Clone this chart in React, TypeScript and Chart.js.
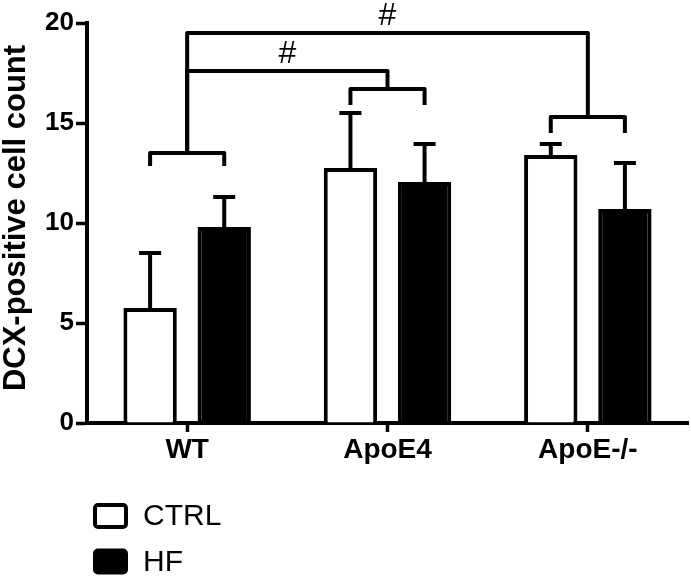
import React, { useEffect, useRef } from "react";
import { Chart, registerables } from "chart.js";

Chart.register(...registerables);

const categories = ["WT", "ApoE4", "ApoE-/-"];
const seriesNames = ["CTRL", "HF"];
const ctrlMeans = [5.75, 12.75, 13.4];
const ctrlSD = [2.75, 2.75, 0.55];
const hfMeans = [9.8, 12.05, 10.7];
const hfSD = [1.5, 1.9, 2.3];
const yMin = 0;
const yMax = 20;
const yStep = 5;
const yTitle = "DCX-positive cell count";

// pairwise CTRL vs HF brackets per group (data units)
const pairBracketY = [13.5, 16.7, 15.3];
const pairLegY = [12.85, 15.9, 14.5];
// between-group comparisons
const compFrom = [0, 0];
const compTo = [1, 2];
const compY = [17.6, 19.5];
const compLabel = ["#", "#"];
const compLabelY = [18.45, 20.35];

const FONT = "'Liberation Sans', Arial, sans-serif";

const annotPlugin = {
  id: "annot",
  afterDatasetsDraw(chart: any) {
    const ctx = chart.ctx;
    const ys = chart.scales.y;
    const means = [ctrlMeans, hfMeans];
    const sds = [ctrlSD, hfSD];
    ctx.save();
    ctx.strokeStyle = "#000";
    ctx.lineWidth = 4;
    ctx.lineCap = "butt";
    for (let i = 0; i < 2; i++) {
      const meta = chart.getDatasetMeta(i);
      meta.data.forEach((el: any, j: number) => {
        const top = ys.getPixelForValue(means[i][j]);
        const tip = ys.getPixelForValue(means[i][j] + sds[i][j]);
        ctx.beginPath();
        ctx.moveTo(el.x, top);
        ctx.lineTo(el.x, tip);
        ctx.moveTo(el.x - 11, tip);
        ctx.lineTo(el.x + 11, tip);
        ctx.stroke();
      });
    }
    ctx.restore();
  },
  afterDraw(chart: any) {
    const ctx = chart.ctx;
    const ys = chart.scales.y;
    const xs = chart.scales.x;
    ctx.save();
    ctx.strokeStyle = "#000";
    ctx.lineWidth = 4;
    ctx.lineJoin = "round";
    const m0 = chart.getDatasetMeta(0);
    const m1 = chart.getDatasetMeta(1);
    categories.forEach((_, j) => {
      const x0 = m0.data[j].x;
      const x1 = m1.data[j].x;
      const yb = ys.getPixelForValue(pairBracketY[j]);
      const yl = ys.getPixelForValue(pairLegY[j]);
      ctx.beginPath();
      ctx.moveTo(x0, yl);
      ctx.lineTo(x0, yb);
      ctx.lineTo(x1, yb);
      ctx.lineTo(x1, yl);
      ctx.stroke();
    });
    compFrom.forEach((f, k) => {
      const t = compTo[k];
      const xf = xs.getPixelForValue(f);
      const xt = xs.getPixelForValue(t);
      const yc = ys.getPixelForValue(compY[k]);
      ctx.beginPath();
      ctx.moveTo(xf, ys.getPixelForValue(pairBracketY[f]));
      ctx.lineTo(xf, yc);
      ctx.lineTo(xt, yc);
      ctx.lineTo(xt, ys.getPixelForValue(pairBracketY[t]));
      ctx.stroke();
      ctx.fillStyle = "#000";
      ctx.font = `32px ${FONT}`;
      ctx.textAlign = "center";
      ctx.textBaseline = "middle";
      ctx.fillText(compLabel[k], (xf + xt) / 2, ys.getPixelForValue(compLabelY[k]));
    });
    // y title
    ctx.save();
    ctx.translate(16, 218);
    ctx.rotate(-Math.PI / 2);
    ctx.font = `bold 31px ${FONT}`;
    ctx.textAlign = "center";
    ctx.textBaseline = "middle";
    ctx.fillStyle = "#000";
    ctx.fillText(yTitle, 0, 0);
    ctx.restore();
    // legend
    const fills = ["#ffffff", "#000000"];
    seriesNames.forEach((name, i) => {
      const bx = 95;
      const by = 505 + i * 45.5;
      const bw = 31;
      const bh = 22;
      ctx.beginPath();
      if ((ctx as any).roundRect) (ctx as any).roundRect(bx, by, bw, bh, 3);
      else ctx.rect(bx, by, bw, bh);
      ctx.fillStyle = fills[i];
      ctx.fill();
      ctx.lineWidth = 4;
      ctx.stroke();
      ctx.fillStyle = "#000";
      ctx.font = `30px ${FONT}`;
      ctx.textAlign = "left";
      ctx.textBaseline = "middle";
      ctx.fillText(name, 143, by + bh / 2 + 1);
    });
    ctx.restore();
  },
};

export default function App() {
  const ref = useRef<HTMLCanvasElement>(null);
  useEffect(() => {
    document.body.style.margin = "0";
    const chart = new Chart(ref.current as HTMLCanvasElement, {
      type: "bar",
      data: {
        labels: categories,
        datasets: [
          {
            label: seriesNames[0],
            data: ctrlMeans,
            backgroundColor: "#ffffff",
            borderColor: "#000000",
            borderWidth: 4,
            borderSkipped: "bottom",
            categoryPercentage: 0.74,
            barPercentage: 0.72,
          },
          {
            label: seriesNames[1],
            data: hfMeans,
            backgroundColor: "#000000",
            borderColor: "#000000",
            borderWidth: 4,
            borderSkipped: "bottom",
            categoryPercentage: 0.74,
            barPercentage: 0.72,
          },
        ],
      },
      options: {
        animation: false,
        responsive: false,
        layout: { padding: { top: 23, right: 3, left: 0, bottom: 0 } },
        plugins: { legend: { display: false }, tooltip: { enabled: false } },
        scales: {
          x: {
            offset: true,
            grid: {
              offset: false,
              drawOnChartArea: false,
              drawTicks: true,
              tickLength: 9,
              tickWidth: 3.5,
              color: "#000",
            },
            border: { display: true, color: "#000", width: 4 },
            ticks: {
              color: "#000",
              font: { family: FONT, size: 28, weight: "bold" },
              padding: 1,
            },
            afterFit(scale: any) {
              scale.height = 156;
            },
          },
          y: {
            min: yMin,
            max: yMax,
            grid: {
              drawOnChartArea: false,
              drawTicks: true,
              tickLength: 11,
              tickWidth: 3.5,
              color: "#000",
            },
            border: { display: true, color: "#000", width: 4 },
            ticks: {
              stepSize: yStep,
              color: "#000",
              font: { family: FONT, size: 26, weight: "bold" },
              padding: 2,
            },
            afterFit(scale: any) {
              scale.width = 87;
            },
          },
        },
      },
      plugins: [annotPlugin],
    });
    return () => chart.destroy();
  }, []);
  return <canvas ref={ref} width={691} height={579} style={{ display: "block" }} />;
}
